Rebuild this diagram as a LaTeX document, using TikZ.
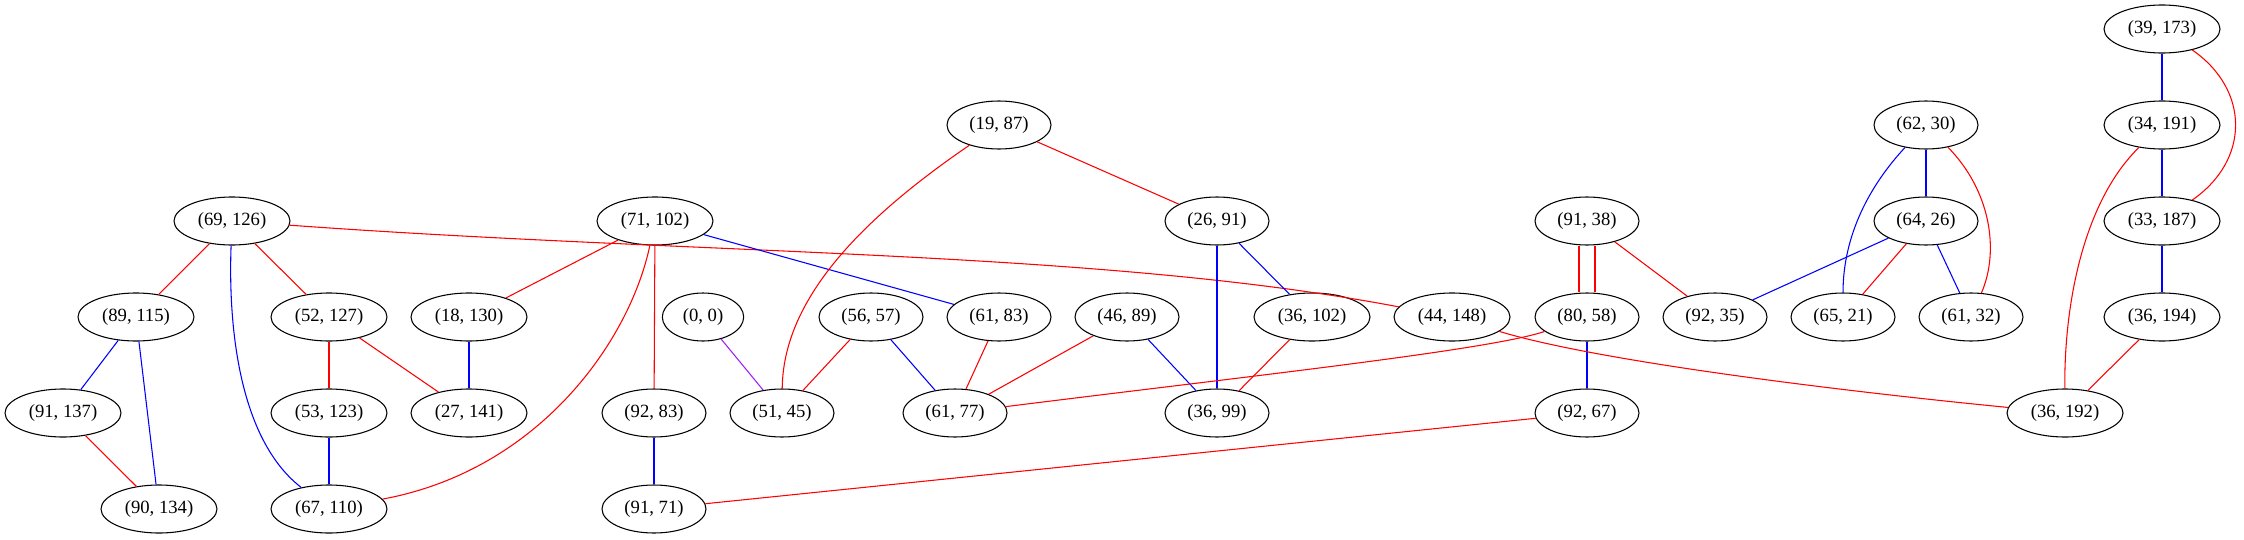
\documentclass[tikz,border=0pt]{standalone}
\usepackage{fontspec}
\setmainfont{Liberation Serif}
\usepackage{tikz}
\usetikzlibrary{shapes.geometric}
\definecolor{gvred}{HTML}{FF0000}
\definecolor{gvblue}{HTML}{0000FF}
\definecolor{gvpurple}{HTML}{A020F0}
\tikzset{
  vtx/.style={ellipse, draw=black, line width=0.8pt, inner sep=0pt,
    minimum width=78pt, minimum height=36pt,
    font=\fontsize{14pt}{16pt}\selectfont},
  wide/.style={vtx, minimum width=87pt},
  narrow/.style={vtx, minimum width=61pt},
  redge/.style={draw=gvred, line width=0.8pt},
  bedge/.style={draw=gvblue, line width=0.8pt},
  pedge/.style={draw=gvpurple, line width=0.8pt}
}

\begin{document}
\begin{tikzpicture}[x=0.75pt,y=-0.75pt]
\useasboundingbox (0,0) rectangle (2244,539);

\node[wide] (n39x173) at (2162, 29) {(39, 173)};

\node[vtx]  (n19x87)  at ( 999,125) {(19, 87)};
\node[vtx]  (n62x30)  at (1926,125) {(62, 30)};
\node[wide] (n34x191) at (2162,125) {(34, 191)};

\node[wide] (n69x126) at ( 232,221) {(69, 126)};
\node[wide] (n71x102) at ( 655,221) {(71, 102)};
\node[vtx]  (n26x91)  at (1217,221) {(26, 91)};
\node[vtx]  (n91x38)  at (1587,221) {(91, 38)};
\node[vtx]  (n64x26)  at (1926,221) {(64, 26)};
\node[wide] (n33x187) at (2162,221) {(33, 187)};

\node[wide] (n89x115) at ( 136,317) {(89, 115)};
\node[wide] (n52x127) at ( 329,317) {(52, 127)};
\node[wide] (n18x130) at ( 469,317) {(18, 130)};
\node[narrow] (n0x0)  at ( 703,317) {(0, 0)};
\node[vtx]  (n56x57)  at ( 871,317) {(56, 57)};
\node[vtx]  (n61x83)  at ( 999,317) {(61, 83)};
\node[vtx]  (n46x89)  at (1127,317) {(46, 89)};
\node[wide] (n36x102) at (1312,317) {(36, 102)};
\node[wide] (n44x148) at (1452,317) {(44, 148)};
\node[vtx]  (n80x58)  at (1587,317) {(80, 58)};
\node[vtx]  (n92x35)  at (1715,317) {(92, 35)};
\node[vtx]  (n65x21)  at (1843,317) {(65, 21)};
\node[vtx]  (n61x32)  at (1971,317) {(61, 32)};
\node[wide] (n36x194) at (2162,317) {(36, 194)};

\node[wide] (n91x137) at (  63,413) {(91, 137)};
\node[wide] (n53x123) at ( 329,413) {(53, 123)};
\node[wide] (n27x141) at ( 469,413) {(27, 141)};
\node[vtx]  (n92x83)  at ( 654,413) {(92, 83)};
\node[vtx]  (n51x45)  at ( 782,413) {(51, 45)};
\node[vtx]  (n61x77)  at ( 955,413) {(61, 77)};
\node[vtx]  (n36x99)  at (1217,413) {(36, 99)};
\node[vtx]  (n92x67)  at (1587,413) {(92, 67)};
\node[wide] (n36x192) at (2065,413) {(36, 192)};

\node[wide] (n90x134) at ( 159,509) {(90, 134)};
\node[wide] (n67x110) at ( 329,509) {(67, 110)};
\node[vtx]  (n91x71)  at ( 654,509) {(91, 71)};

\draw[redge] (n69x126) -- (n89x115);
\draw[redge] (n69x126) -- (n52x127);
\draw[bedge] (n69x126) .. controls (228,330) and (240,440) .. (n67x110);
\draw[redge] (n69x126) .. controls (700,255) and (1100,250) .. (n44x148);
\draw[bedge] (n89x115) -- (n91x137);
\draw[bedge] (n89x115) -- (n90x134);
\draw[redge] (n91x137) -- (n90x134);
\draw[redge] (n52x127) -- (n53x123);
\draw[redge] (n52x127) -- (n27x141);
\draw[bedge] (n53x123) -- (n67x110);
\draw[bedge] (n18x130) -- (n27x141);

\draw[redge] (n71x102) -- (n18x130);
\draw[redge] (n71x102) .. controls (630,340) and (540,470) .. (n67x110);
\draw[redge] (n71x102) -- (n92x83);
\draw[bedge] (n71x102) -- (n61x83);
\draw[bedge] (n92x83) -- (n91x71);

\draw[redge] (n19x87) .. controls (860,220) and (783,300) .. (n51x45);
\draw[redge] (n19x87) -- (n26x91);
\draw[pedge] (n0x0) -- (n51x45);
\draw[redge] (n56x57) -- (n51x45);
\draw[bedge] (n56x57) -- (n61x77);
\draw[redge] (n61x83) -- (n61x77);
\draw[redge] (n46x89) -- (n61x77);
\draw[bedge] (n46x89) -- (n36x99);
\draw[bedge] (n26x91) -- (n36x99);
\draw[bedge] (n26x91) -- (n36x102);
\draw[redge] (n36x102) -- (n36x99);

\draw[redge] ([xshift=-6pt]n91x38.south) -- ([xshift=-6pt]n80x58.north);
\draw[redge] ([xshift=6pt]n91x38.south) -- ([xshift=6pt]n80x58.north);
\draw[redge] (n91x38) -- (n92x35);
\draw[redge] (n80x58) .. controls (1490,350) and (1250,376) .. (n61x77);
\draw[bedge] (n80x58) -- (n92x67);
\draw[redge] (n92x67) -- (n91x71);
\draw[redge] (n44x148) .. controls (1600,362) and (1850,392) .. (n36x192);

\draw[bedge] (n62x30) -- (n64x26);
\draw[bedge] (n62x30) .. controls (1870,185) and (1843,235) .. (n65x21);
\draw[redge] (n62x30) .. controls (1990,190) and (2000,250) .. (n61x32);
\draw[bedge] (n64x26) -- (n92x35);
\draw[redge] (n64x26) -- (n65x21);
\draw[bedge] (n64x26) -- (n61x32);

\draw[bedge] (n39x173) -- (n34x191);
\draw[redge] (n39x173) .. controls (2250,90) and (2250,160) .. (n33x187);
\draw[bedge] (n34x191) -- (n33x187);
\draw[redge] (n34x191) .. controls (2085,200) and (2064,300) .. (n36x192);
\draw[bedge] (n33x187) -- (n36x194);
\draw[redge] (n36x194) -- (n36x192);
\end{tikzpicture}
\end{document}
